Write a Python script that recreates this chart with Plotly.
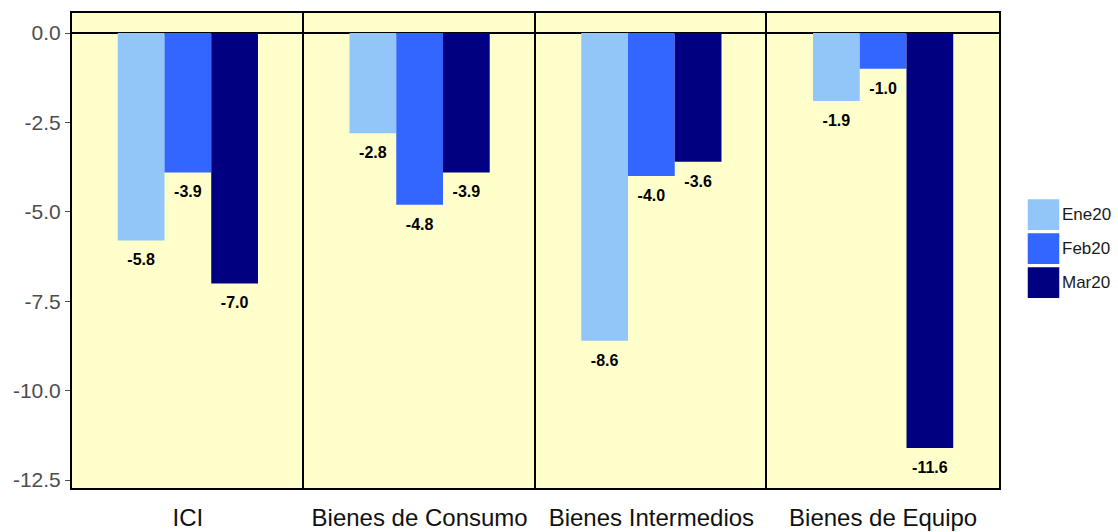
import plotly.graph_objects as go
from plotly.subplots import make_subplots

categories = ["ICI", "Bienes de Consumo", "Bienes Intermedios", "Bienes de Equipo"]
series_names = ["Ene20", "Feb20", "Mar20"]
ene20 = [-5.8, -2.8, -8.6, -1.9]
feb20 = [-3.9, -4.8, -4.0, -1.0]
mar20 = [-7.0, -3.9, -3.6, -11.6]
y_ticks = [0.0, -2.5, -5.0, -7.5, -10.0, -12.5]
y_tick_labels = ["0.0", "-2.5", "-5.0", "-7.5", "-10.0", "-12.5"]

colors = ["#93C6F8", "#3366FF", "#000080"]
values = [ene20, feb20, mar20]
bg = "#FFFFCC"
FONT = "Liberation Sans, Arial"

fig = make_subplots(rows=1, cols=4, shared_yaxes=True, horizontal_spacing=0)

for i, cat in enumerate(categories):
    for s, (name, vals) in enumerate(zip(series_names, values)):
        fig.add_trace(
            go.Bar(
                x=[cat], y=[vals[i]], name=name,
                marker=dict(color=colors[s], line=dict(width=0)),
                offsetgroup=name, showlegend=False,
            ),
            row=1, col=i + 1,
        )
    for s, (name, vals) in enumerate(zip(series_names, values)):
        fig.add_trace(
            go.Scatter(
                x=[cat], y=[vals[i]], mode="markers+text",
                marker=dict(size=19, color="rgba(0,0,0,0)"),
                text=[f"{vals[i]:.1f}"], textposition="bottom center",
                textfont=dict(family=FONT, size=16, color="black", weight="bold"),
                offsetgroup=name, cliponaxis=False, showlegend=False,
                hoverinfo="skip",
            ),
            row=1, col=i + 1,
        )

for i in range(4):
    xa = "xaxis" if i == 0 else f"xaxis{i+1}"
    ya = "yaxis" if i == 0 else f"yaxis{i+1}"
    fig.layout[xa].update(
        type="category", range=[-0.5, 0.5], showgrid=False, automargin=False,
        showline=True, mirror=True, linecolor="black", linewidth=2,
        ticks="", ticklabelstandoff=7,
        tickfont=dict(family=FONT, size=24, color="#111111"),
    )
    fig.layout[ya].update(
        range=[-12.72, 0.56], showgrid=False, automargin=False,
        showline=True, mirror=(i == 3), linecolor="black", linewidth=2,
        zeroline=True, zerolinecolor="black", zerolinewidth=1.5,
        tickvals=y_ticks, ticktext=y_tick_labels,
        ticks="outside" if i == 0 else "", ticklen=5, tickcolor="#4d4d4d", tickwidth=1,
        showticklabels=(i == 0),
        tickfont=dict(family=FONT, size=21, color="#4d4d4d"),
    )

# manual legend (large square keys, as in the reference)
shapes = []
annotations = []
key_h = 0.065
for s, name in enumerate(series_names):
    y_top = 0.608 - s * 0.0716
    shapes.append(dict(type="rect", xref="paper", yref="paper",
                       x0=1.031, x1=1.065, y0=y_top - key_h, y1=y_top,
                       fillcolor=colors[s], line=dict(width=0)))
    annotations.append(dict(xref="paper", yref="paper", x=1.066, y=y_top - key_h / 2,
                            text=name, showarrow=False, xanchor="left", yanchor="middle",
                            font=dict(family=FONT, size=17, color="#1a1a1a")))

fig.update_layout(
    width=1118, height=532,
    margin=dict(l=72, r=119, t=13, b=44),
    barmode="group", bargap=0.395, bargroupgap=0,
    scattermode="group", scattergap=0.395,
    plot_bgcolor=bg, paper_bgcolor="white",
    showlegend=False,
    shapes=shapes, annotations=annotations,
)

fig.write_html("out.html", config={"displayModeBar": False},
               post_script="document.body.style.margin='0';document.body.style.overflow='hidden';")
